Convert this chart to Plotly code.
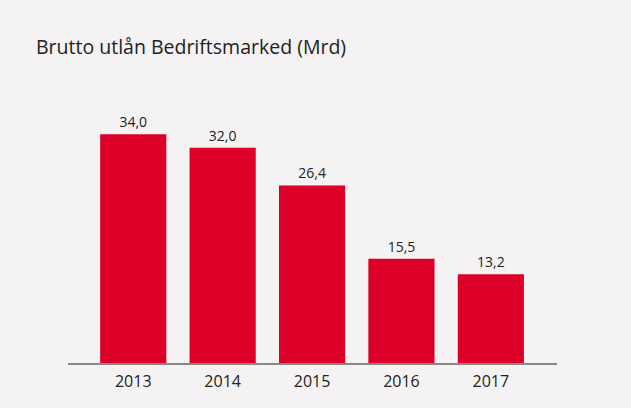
import plotly.graph_objects as go

years = ["2013", "2014", "2015", "2016", "2017"]
values = [34.0, 32.0, 26.4, 15.5, 13.2]
labels = [f"{v:.1f}".replace(".", ",") for v in values]

fig = go.Figure(go.Bar(
    x=years, y=values, text=labels, textposition="outside",
    textfont=dict(family="Open Sans", size=14, color="#222222"),
    marker=dict(color="#dc0028", line=dict(width=0)),
    width=0.74, cliponaxis=False,
))

fig.update_layout(
    width=631, height=408,
    paper_bgcolor="#f4f2f3", plot_bgcolor="#f4f2f3",
    margin=dict(l=68, r=74, t=94, b=45),
    showlegend=False,
    title=dict(text="Brutto utlån Bedriftsmarked (Mrd)", x=36/631, xanchor="left",
               y=1-47/408, yanchor="middle",
               font=dict(family="Open Sans", size=19.5, color="#222222")),
    xaxis=dict(type="category", range=[-0.73, 4.74], showline=True, linecolor="#888888",
               linewidth=2, ticks="", showgrid=False, ticklabelstandoff=3,
               tickfont=dict(family="Open Sans", size=16, color="#222222")),
    yaxis=dict(range=[0, 40], showgrid=False, zeroline=False, showticklabels=False, ticks=""),
)

fig.write_html("out.html", config={"displayModeBar": False},
               post_script="document.body.style.margin='0';document.body.style.background='#f4f2f3';")
